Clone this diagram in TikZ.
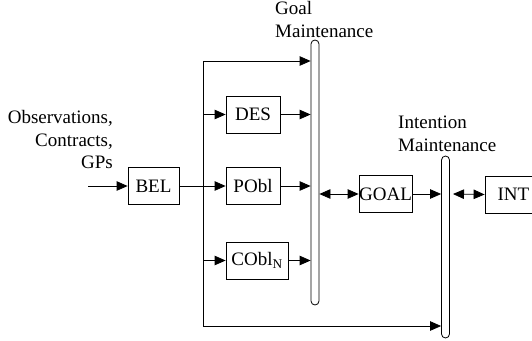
\documentclass[tikz,border=0pt]{standalone}
\usepackage{fontspec}
\setmainfont{Liberation Serif}
\usetikzlibrary{arrows.meta}
\begin{document}
\begin{tikzpicture}[x=1pt,y=-1pt,
  every node/.style={font=\fontsize{19}{22.8}\selectfont, inner sep=0pt},
  box/.style={draw, line width=0.8pt, minimum height=37},
  bar/.style={draw, line width=0.8pt, rounded corners=4pt, minimum width=8},
  ln/.style={line width=0.8pt},
  arr/.style={ln, -{Triangle[length=11pt,width=9.5pt]}},
  arrb/.style={ln, {Triangle[length=11pt,width=9.5pt]}-{Triangle[length=11pt,width=9.5pt]}},
  lbl/.style={align=left, anchor=north west}]
\clip (0,0) rectangle (532,340);
\useasboundingbox (0,0) rectangle (532,340);
% bars
\node[bar, minimum height=265] (gm) at (315,172.5) {};
\node[bar, minimum height=182] (im) at (445.5,247) {};
% boxes
\node[box, minimum width=51] (bel) at (153.5,186) {BEL};
\node[box, minimum width=54] (des) at (253,114.5) {DES};
\node[box, minimum width=54] (pobl) at (253,186) {PObl};
\node[box, minimum width=62] (cobl) at (257,260.5) {CObl\textsubscript{N}};
\node[box, minimum width=53] (goal) at (385.5,194) {GOAL};
\node[box, minimum width=60, text width=47, align=left] (int) at (515,194.5) {\hspace{6pt}INT};
% labels
\node[lbl] (gml) at (275,1) {Goal\\Maintenance};
\node[lbl] (iml) at (398,116) {Intention\\Maintenance};
\node[align=right, anchor=north east] (obs) at (113,110) {Observations,\\Contracts,\\GPs};
% coordinates
\coordinate (in) at (88,186);
\coordinate (tl) at (203,61);
\coordinate (bl) at (203,326);
\coordinate (is) at (453,194);
% connectors
\draw[arr] (in) -- (bel.west);
\draw[arr] (bel.east) -- (pobl.west);
\draw[ln] (tl) -- (bl);
\draw[arr] (tl) -- (tl -| gm.west);
\draw[arr] (bl) -- (bl -| im.west);
\draw[arr] (tl |- des.west) -- (des.west);
\draw[arr] (tl |- cobl.west) -- (cobl.west);
\draw[arr] (des.east) -- (des.east -| gm.west);
\draw[arr] (pobl.east) -- (pobl.east -| gm.west);
\draw[arr] (cobl.east) -- (cobl.east -| gm.west);
\draw[arrb] (gm.east |- goal.west) -- (goal.west);
\draw[arr] (goal.east) -- (goal.east -| im.west);
\draw[arrb] (is) -- (int.west);
\end{tikzpicture}
\end{document}
